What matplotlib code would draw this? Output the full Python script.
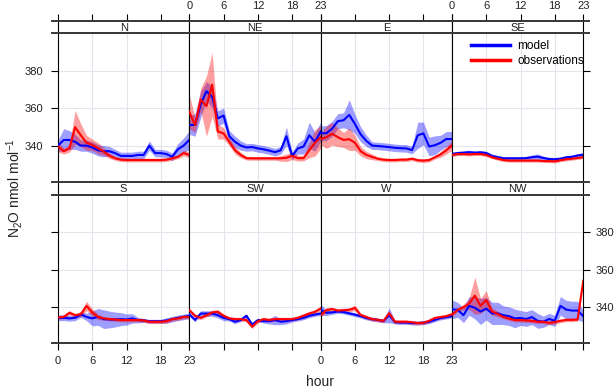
import matplotlib
matplotlib.use("Agg")
import matplotlib.pyplot as plt
from matplotlib.lines import Line2D
import numpy as np

plt.rcParams['font.family'] = ['Liberation Sans', 'DejaVu Sans']
plt.rcParams['mathtext.fontset'] = 'custom'
plt.rcParams['mathtext.rm'] = 'Liberation Sans'
plt.rcParams['mathtext.it'] = 'Liberation Sans:italic'
plt.rcParams['mathtext.default'] = 'regular'

# ---------------- data ----------------
hours = list(range(24))
directions_top = ["N", "NE", "E", "SE"]
directions_bottom = ["S", "SW", "W", "NW"]
xticks = [0, 6, 12, 18, 23]
xgrid = [6, 12, 18]
yticks = [340, 360, 380]
series_labels = ["model", "observations"]

n_model = [340, 343, 343, 342, 340, 340, 339, 337.5, 337, 337, 336, 334.5, 334.5, 334.5, 335, 335, 340, 336, 336, 335.5, 334, 338, 340, 343]
n_model_ci = [3, 6, 5, 4, 3, 3, 3, 3, 3, 2.5, 2, 2, 2, 2, 2, 2, 2.5, 2, 2, 2, 2, 3, 4, 5]
n_obs = [339.5, 337, 338.5, 349.8, 345.5, 341.5, 340.4, 338.6, 336.8, 334.6, 333.2, 332.5, 332.3, 332.3, 332.3, 332.3, 332.3, 332.3, 332.3, 332.5, 333.2, 334, 336, 335]
n_obs_ci = [3, 1.5, 2, 9, 6, 4, 3, 3, 2, 1.5, 1, 1, 1, 1, 1, 1, 1, 1, 1, 1, 1, 1, 1.5, 1.5]

ne_model = [351, 351, 362, 369, 366, 354.5, 356, 345, 342, 340, 339, 339.2, 338.5, 338, 337.3, 336.5, 337.5, 345, 334.5, 338.5, 339.5, 345.5, 342, 347.5]
ne_model_ci = [5, 6, 7, 5, 6, 4, 4, 3, 3, 2.5, 2, 2, 2, 2, 2, 2, 2, 5, 2, 3, 4, 7, 5, 5]
ne_obs = [358, 351, 364.5, 361, 372.5, 347.5, 346.5, 342, 337.5, 335, 333.3, 333.2, 333.2, 333.2, 333.2, 333.2, 333.2, 333.5, 334.5, 333.3, 333.3, 337.5, 341.5, 344.5]
ne_obs_ci = [9, 4, 6, 16, 17, 4, 3, 2, 2, 1.5, 1, 1, 1, 1, 1, 1, 1.5, 2, 2, 1.5, 1.5, 4, 7, 6]

e_model = [346.6, 346.6, 349, 353, 353.5, 356.4, 351.5, 346, 342.5, 340, 339.8, 339.5, 339.2, 338.8, 338.6, 338.5, 337.6, 345.5, 346.5, 339.5, 340.2, 341.5, 343.5, 343.5]
e_model_ci = [4, 4, 4, 4, 4, 8, 5, 4, 3, 2, 2, 2, 2, 2, 2, 2, 2, 7, 6, 5, 5, 4, 4, 4]
e_obs = [343.5, 344.5, 346.3, 344.5, 343, 343.4, 341.5, 337, 335, 334, 333, 332.5, 332.3, 332.3, 332.5, 332.5, 333, 332.2, 332, 332.3, 333.8, 335.3, 337.5, 340]
e_obs_ci = [3, 6, 6, 5, 4, 6, 4, 2.5, 2, 1.5, 1, 1, 1, 1, 1, 1, 1, 1, 1, 1, 1, 1.5, 2, 2.5]

se_model = [335.5, 336, 336.2, 336.5, 336.2, 336.4, 336, 334.5, 333.8, 333.2, 333.2, 333.2, 333.2, 333.3, 333.8, 334.1, 333.4, 332.8, 332.7, 333, 333.7, 334, 334.7, 335.2]
se_model_ci = [1, 1, 1, 1, 1, 1, 1, 1, 1, 1, 1, 1, 1, 1, 1.2, 1.5, 1, 1, 1, 1, 1, 1, 1, 1]
se_obs = [335, 335.5, 335.5, 335.3, 335.5, 335.5, 335, 333.8, 333, 332.3, 332, 332, 332, 332, 332, 332, 331.8, 331.7, 331.6, 332.2, 332.7, 333, 333.4, 333.8]
se_obs_ci = [0.8] * 24

s_model = [334.1, 334.1, 333.8, 334.1, 335.9, 334.6, 333.8, 334.6, 333.4, 333.2, 333.2, 333.4, 333.2, 333.8, 332.9, 332.7, 332.3, 332.3, 332.3, 332.7, 333.4, 334.1, 334.6, 335.2]
s_model_ci = [1.5, 1.5, 1.5, 1.5, 1.5, 2, 4, 4.5, 5, 4.5, 4, 3.5, 3, 2.5, 1.5, 1, 1, 1, 1, 1.5, 1.5, 1.5, 1.5, 1.5]
s_obs = [334.3, 334.6, 336.8, 335.5, 336, 340.5, 337, 334.6, 333.8, 333.4, 333.2, 332.9, 332.9, 332.9, 332.9, 332.7, 332, 332, 332, 332.3, 333.4, 333.8, 334.6, 334.6]
s_obs_ci = [1, 1, 1.2, 1, 1.5, 2.5, 2, 1.5, 1, 1, 1, 1, 1, 1, 1, 1, 1, 1, 1, 1, 1, 1, 1, 1]

sw_model = [336, 333, 336.4, 336.4, 336.4, 335.5, 334.1, 333.4, 332, 333, 335.2, 330.5, 332.9, 332.3, 332.3, 332.9, 332, 332.3, 332.9, 333.4, 334.1, 335.2, 335.9, 336.4]
sw_model_ci = [1, 1, 1.5, 1.5, 1.5, 1.5, 1.5, 1, 1, 1, 1, 1, 1, 1, 1.5, 2.5, 1.5, 1.5, 1, 1, 1, 1, 1, 1]
sw_obs = [338.2, 335.2, 334.1, 335.5, 337, 337.3, 335.2, 333.8, 333.4, 333.4, 332.9, 329.3, 332.3, 333.4, 332.9, 333.4, 333.4, 333.4, 333.4, 334.1, 335.2, 336.4, 337.3, 339.1]
sw_obs_ci = [1, 1, 1, 1, 1.2, 1.2, 1, 1, 1, 1, 1, 1, 1, 1, 1, 1, 1, 1, 1, 1, 1.2, 1.2, 1.2, 1.2]

w_model = [338.5, 336.8, 337, 337.5, 337.2, 336.5, 335.8, 335, 334, 333.4, 333, 332.4, 335.5, 331.8, 331.6, 331.6, 331.3, 331.3, 331.5, 332, 333, 334, 334.5, 335]
w_model_ci = [3, 1.5, 1, 1, 1, 1, 1, 1, 1, 1, 1, 1, 4, 1, 1, 1, 1, 1, 1, 1, 1, 1, 1, 1]
w_obs = [335.6, 338.2, 338.8, 338, 338.2, 338.4, 339.4, 335.6, 334.5, 333.4, 333, 332.5, 336.6, 332, 332, 332, 331.7, 331.3, 331.5, 332.5, 334, 334.5, 335, 336]
w_obs_ci = [1, 1.5, 1, 1, 1, 1, 1.5, 1, 1, 1, 1, 1, 1, 1, 1, 1, 1, 1, 1, 1, 1, 1, 1, 1]

nw_model = [338.6, 338.4, 335.5, 340.5, 339.5, 337.5, 339, 336.5, 336.5, 335.5, 335, 333.8, 334, 333.5, 334.5, 332.5, 332, 333.5, 332.5, 340.5, 338.5, 338, 338, 335]
nw_model_ci = [5, 4, 4, 5, 6, 7, 6, 6, 6, 5, 5, 5, 4, 4, 4, 4, 3, 3, 3, 5, 5, 5, 5, 3]
nw_obs = [335.8, 338.4, 339.8, 341.7, 346, 340.5, 343.7, 337.5, 336.2, 334.6, 333.7, 332.9, 332.9, 332.7, 332.5, 332, 332, 331.4, 331.8, 332.5, 333, 333, 333.2, 354]
nw_obs_ci = [1, 1, 1.5, 3, 10, 4, 5, 2, 1.5, 1, 1, 1, 1, 1, 1, 1, 1, 1, 1, 1, 1, 1, 1, 1.5]

panel_data = {
    "N": (n_model, n_model_ci, n_obs, n_obs_ci),
    "NE": (ne_model, ne_model_ci, ne_obs, ne_obs_ci),
    "E": (e_model, e_model_ci, e_obs, e_obs_ci),
    "SE": (se_model, se_model_ci, se_obs, se_obs_ci),
    "S": (s_model, s_model_ci, s_obs, s_obs_ci),
    "SW": (sw_model, sw_model_ci, sw_obs, sw_obs_ci),
    "W": (w_model, w_model_ci, w_obs, w_obs_ci),
    "NW": (nw_model, nw_model_ci, nw_obs, nw_obs_ci),
}

# ---------------- layout ----------------
W, H = 614, 390
fig = plt.figure(figsize=(W / 100, H / 100), dpi=100)

def rect(x0, y0, x1, y1):
    return [x0 / W, 1 - y1 / H, (x1 - x0) / W, (y1 - y0) / H]

col_edges = [58, 189.3, 320.7, 452, 583.3]
rows = [((21, 33), (33, 182)), ((182, 195), (195, 343))]
ylim = (320.6, 400)
BLUE = "#0000FF"
RED = "#FF0000"
grid_c = "#e4e4ec"
frame_c = "#3a3a3a"
tick_fs = 8
txt_c = "#222222"

for r, names in enumerate([directions_top, directions_bottom]):
    (sy0, sy1), (py0, py1) = rows[r]
    for c, name in enumerate(names):
        x0, x1 = col_edges[c], col_edges[c + 1]
        ax = fig.add_axes(rect(x0, py0, x1, py1))
        model, model_ci, obs, obs_ci = (np.array(v, dtype=float) for v in panel_data[name])
        h = np.array(hours)
        for gx in xgrid:
            ax.axvline(gx, color=grid_c, lw=0.8, zorder=0)
        for gy in yticks:
            ax.axhline(gy, color=grid_c, lw=0.8, zorder=0)
        ax.fill_between(h, model - model_ci, model + model_ci, color=BLUE, alpha=0.38, lw=0, zorder=1)
        ax.fill_between(h, obs - obs_ci, obs + obs_ci, color=RED, alpha=0.38, lw=0, zorder=2)
        ax.plot(h, model, color=BLUE, lw=1.5, zorder=3)
        ax.plot(h, obs, color=RED, lw=1.5, zorder=4)
        ax.set_xlim(0, 23)
        ax.set_ylim(*ylim)
        for s in ["left", "right"]:
            ax.spines[s].set_color("black")
            ax.spines[s].set_linewidth(0.8)
        for s in ["top", "bottom"]:
            ax.spines[s].set_color(frame_c)
            ax.spines[s].set_linewidth(1.4)
        ax.set_xticks(xticks)
        ax.set_yticks(yticks)
        ax.tick_params(axis="x", which="both", top=False, labeltop=False,
                       bottom=(r == 1), labelbottom=(r == 1 and c % 2 == 0),
                       direction="out", length=5, width=0.8, pad=4.5, labelsize=tick_fs,
                       color="black", labelcolor=txt_c)
        left_on = (c == 0)
        right_on = (c == 3)
        ax.tick_params(axis="y", which="both", direction="out", length=5, width=0.8,
                       left=left_on, labelleft=(left_on and r == 0),
                       right=right_on, labelright=(right_on and r == 1),
                       labelsize=tick_fs, color="black", labelcolor=txt_c)
        if left_on:
            ax.yaxis.set_tick_params(pad=6)
        if right_on:
            ax.yaxis.set_tick_params(pad=4)

        # strip
        sax = fig.add_axes(rect(x0, sy0, x1, sy1))
        sax.set_xlim(0, 23)
        sax.set_ylim(0, 1)
        sax.set_yticks([])
        sax.set_facecolor("white")
        for s in ["left", "right"]:
            sax.spines[s].set_color("black")
            sax.spines[s].set_linewidth(0.8)
        for s in ["top", "bottom"]:
            sax.spines[s].set_color(frame_c)
            sax.spines[s].set_linewidth(1.4)
        sax.text(0.5, 0.45, name, transform=sax.transAxes, ha="center", va="center",
                 fontsize=8, color=txt_c)
        sax.set_xticks(xticks)
        sax.tick_params(axis="x", bottom=False, labelbottom=False,
                        top=(r == 0), labeltop=(r == 0 and c % 2 == 1),
                        direction="out", length=5, width=0.8, pad=2.5, labelsize=tick_fs,
                        color="black", labelcolor=txt_c)

        if name == "SE":
            handles = [Line2D([], [], color=BLUE, lw=2.5), Line2D([], [], color=RED, lw=2.5)]
            fig.legend(handles, series_labels, loc="upper left",
                       bbox_to_anchor=(471 / W, 1 - 40 / H), frameon=False,
                       fontsize=8.5, handlelength=3.3, handletextpad=0.6,
                       labelspacing=0.25, borderpad=0, borderaxespad=0)

# extended horizontal frame lines (strip/panel borders stick out a little)
for yy in [21, 33, 182, 195, 343]:
    fig.add_artist(Line2D([52 / W, 589 / W], [1 - yy / H, 1 - yy / H], color=frame_c, lw=1.4))

fig.text(15 / W, 1 - 188 / H, "N$_2$O nmol mol$^{-1}$", rotation=90, ha="center", va="center",
         fontsize=10, color=txt_c)
fig.text(320 / W, 1 - 382 / H, "hour", ha="center", va="center", fontsize=10, color=txt_c)

fig.savefig("out.png", dpi=100)
